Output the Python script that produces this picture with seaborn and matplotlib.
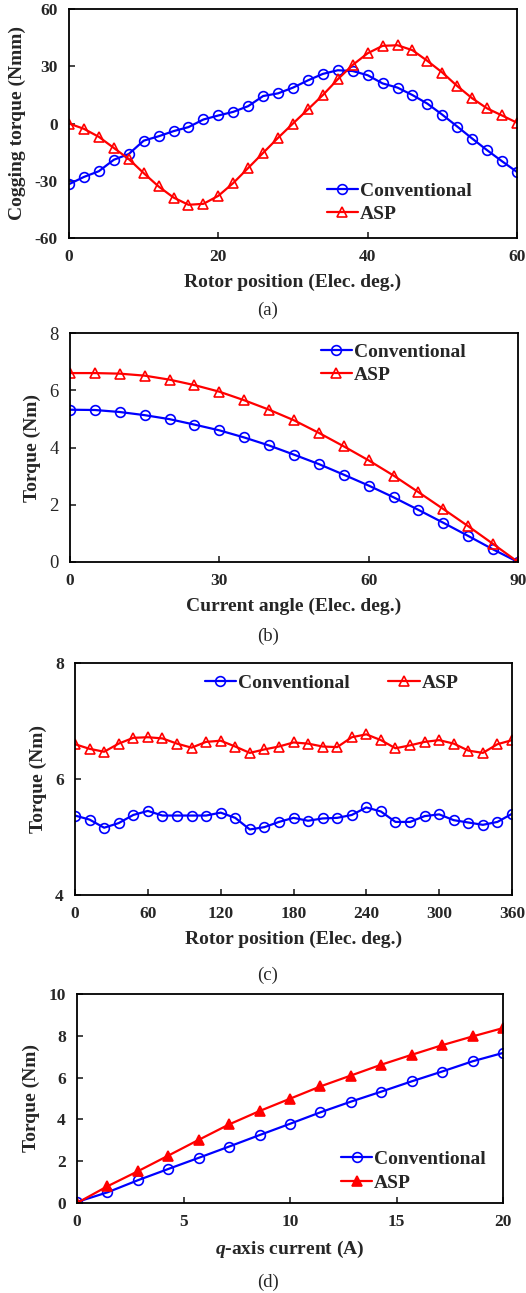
import matplotlib
matplotlib.use("Agg")
from matplotlib import pyplot as plt
import pandas as pd
import seaborn as sns

# (a) cogging torque vs rotor position
pos_a = list(range(0, 61, 2))
cog_conv = [-31.8, -28.0, -25.0, -19.0, -16.0, -9.0, -6.7, -4.0, -1.9, 2.1, 4.2,
            6.1, 9.1, 14.4, 15.8, 18.8, 22.6, 26.0, 27.9, 27.5, 25.3, 21.0, 18.8,
            14.9, 10.4, 4.6, -1.6, -7.9, -14.0, -19.8, -25.4]
cog_asp = [0.0, -2.8, -7.0, -12.8, -18.6, -26.0, -33.0, -38.8, -42.6, -42.1, -37.9,
           -31.2, -23.3, -15.4, -7.5, 0.0, 7.4, 14.9, 23.2, 30.7, 36.8, 40.7, 41.0,
           38.4, 32.8, 26.7, 19.6, 13.2, 7.9, 4.2, 0.4]

# (b) torque vs current angle
angle_b = list(range(0, 91, 5))
tq_angle_conv = [5.32, 5.31, 5.24, 5.13, 4.99, 4.80, 4.60, 4.35, 4.07, 3.75, 3.42,
                 3.05, 2.67, 2.26, 1.82, 1.37, 0.91, 0.44, 0.0]
tq_angle_asp = [6.60, 6.60, 6.58, 6.51, 6.37, 6.18, 5.95, 5.65, 5.32, 4.95, 4.51,
                4.04, 3.55, 3.02, 2.44, 1.85, 1.25, 0.63, 0.0]

# (c) torque waveform vs rotor position
pos_c = list(range(0, 361, 12))
wave_conv = [5.37, 5.30, 5.16, 5.24, 5.38, 5.45, 5.37, 5.37, 5.37, 5.37, 5.42,
             5.33, 5.13, 5.17, 5.26, 5.33, 5.28, 5.32, 5.33, 5.38, 5.51, 5.44,
             5.26, 5.26, 5.36, 5.39, 5.29, 5.25, 5.21, 5.26, 5.40]
wave_asp = [6.60, 6.52, 6.47, 6.61, 6.71, 6.72, 6.70, 6.61, 6.54, 6.64, 6.66,
            6.56, 6.45, 6.51, 6.56, 6.63, 6.61, 6.56, 6.55, 6.72, 6.77, 6.67,
            6.53, 6.58, 6.64, 6.67, 6.61, 6.49, 6.45, 6.60, 6.67]

# (d) torque vs q-axis current
iq = [0.0, 1.43, 2.86, 4.29, 5.71, 7.14, 8.57, 10.0, 11.43, 12.86, 14.29,
      15.71, 17.14, 18.57, 20.0]
tq_iq_conv = [0.05, 0.51, 1.09, 1.63, 2.16, 2.70, 3.25, 3.79, 4.34, 4.85, 5.33,
              5.82, 6.29, 6.78, 7.18]
tq_iq_asp = [0.0, 0.80, 1.52, 2.27, 3.02, 3.76, 4.40, 4.99, 5.58, 6.10, 6.62,
             7.09, 7.55, 7.97, 8.37]

sns.set_style("ticks")
plt.rcParams['font.family'] = ['Liberation Serif', 'DejaVu Serif']
plt.rcParams['font.weight'] = 'bold'
plt.rcParams['axes.labelweight'] = 'bold'
plt.rcParams['axes.unicode_minus'] = False
plt.rcParams['mathtext.fontset'] = 'custom'
plt.rcParams['mathtext.it'] = 'Liberation Serif:bold:italic'
plt.rcParams['mathtext.rm'] = 'Liberation Serif:bold'

W, H = 526, 1293
fig = plt.figure(figsize=(W / 100, H / 100), dpi=100)


def add_axes(left, top, right, bottom):
    return fig.add_axes([left / W, 1 - bottom / H, (right - left) / W, (bottom - top) / H])


def draw(ax, x, y, name, filled=False):
    color = 'blue' if name == 'Conventional' else 'red'
    marker = 'o' if name == 'Conventional' else '^'
    df = pd.DataFrame({'x': x, 'y': y})
    sns.lineplot(data=df, x='x', y='y', ax=ax, color=color, marker=marker,
                 markersize=7 if marker == 'o' else 6.5,
                 markerfacecolor=color if filled else 'none',
                 markeredgecolor=color, markeredgewidth=1.2, linewidth=1.6,
                 label=name)


def style(ax, xlim, ylim, xticks, yticks, xlabel, ylabel, bold_y=True):
    ax.set_xlim(xlim)
    ax.set_ylim(ylim)
    ax.set_xticks(xticks)
    ax.set_yticks(yticks)
    ax.tick_params(direction='in', length=4, width=1.2, labelsize=12.5, pad=8)
    for t in ax.get_xticklabels():
        t.set_fontweight('bold')
    for t in ax.get_yticklabels():
        t.set_fontweight('bold' if bold_y else 'normal')
        if not bold_y:
            t.set_fontsize(13.5)
    for s in ax.spines.values():
        s.set_linewidth(1.3)
        s.set_color('black')
    ax.set_xlabel(xlabel, fontsize=14, labelpad=6)
    ax.set_ylabel(ylabel, fontsize=14, labelpad=6)


def legend(ax, anchor, ncol=1, colspace=2.0):
    ax.legend(loc='center left', bbox_to_anchor=anchor, ncol=ncol, frameon=False,
              handlelength=1.6, handletextpad=0.1,
              labelspacing=0.3, borderaxespad=0, borderpad=0,
              columnspacing=colspace, prop={'weight': 'bold', 'size': 14})


# (a)
ax1 = add_axes(69, 9, 517, 238)
draw(ax1, pos_a, cog_conv, 'Conventional')
draw(ax1, pos_a, cog_asp, 'ASP')
style(ax1, (0, 60), (-60, 60), [0, 20, 40, 60], [-60, -30, 0, 30, 60],
      'Rotor position (Elec. deg.)', 'Cogging torque (Nmm)')
legend(ax1, (0.575, 0.155))

# (b)
ax2 = add_axes(70, 333, 518, 562)
draw(ax2, angle_b, tq_angle_conv, 'Conventional')
draw(ax2, angle_b, tq_angle_asp, 'ASP')
style(ax2, (0, 90), (0, 8), [0, 30, 60, 90], [0, 2, 4, 6, 8],
      'Current angle (Elec. deg.)', 'Torque (Nm)', bold_y=False)
legend(ax2, (0.56, 0.867))

# (c)
ax3 = add_axes(75, 663, 512, 895)
draw(ax3, pos_c, wave_conv, 'Conventional')
draw(ax3, pos_c, wave_asp, 'ASP')
style(ax3, (0, 360), (4, 8), list(range(0, 361, 60)), [4, 6, 8],
      'Rotor position (Elec. deg.)', 'Torque (Nm)')
legend(ax3, (0.297, 0.914), ncol=2, colspace=2.0)

# (d)
ax4 = add_axes(77, 994, 503, 1203)
draw(ax4, iq, tq_iq_conv, 'Conventional')
draw(ax4, iq, tq_iq_asp, 'ASP', filled=True)
style(ax4, (0, 20), (0, 10), [0, 5, 10, 15, 20], [0, 2, 4, 6, 8, 10],
      '$q$-axis current (A)', 'Torque (Nm)')
legend(ax4, (0.62, 0.153))

for label, y in [('(a)', 310), ('(b)', 636), ('(c)', 975), ('(d)', 1282)]:
    fig.text(268 / W, 1 - y / H, label, ha='center', va='center',
             fontsize=13.5, fontweight='normal')

fig.savefig('out.png', dpi=100)
